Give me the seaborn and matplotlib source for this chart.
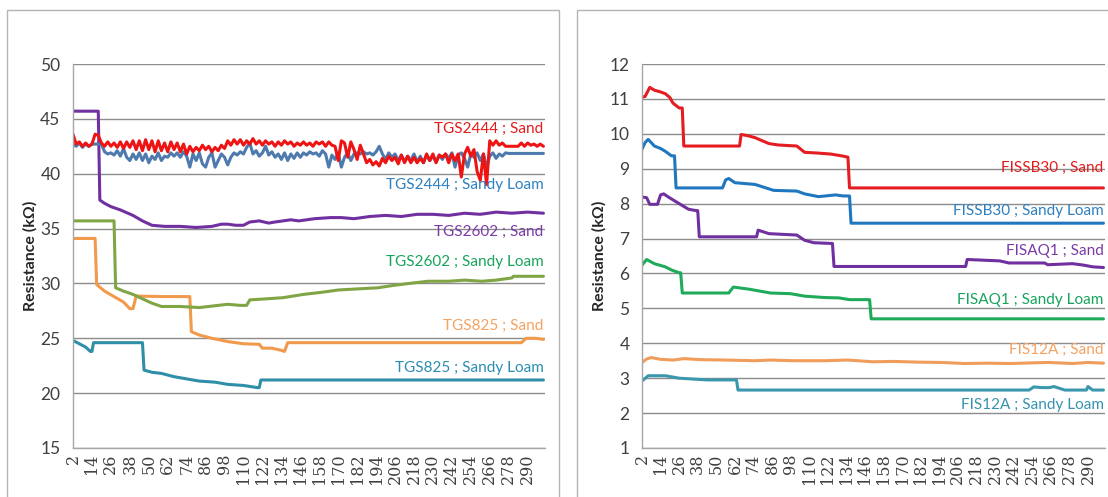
import matplotlib
matplotlib.use("Agg")
import matplotlib.pyplot as plt
import matplotlib.transforms as mtransforms
from matplotlib.patches import Rectangle
import seaborn as sns
import pandas as pd
import numpy as np

# sample numbers (category axis)
x_ticks = list(range(2, 291, 12))
x_every2 = list(range(2, 301, 2))

# ---- left chart: TGS sensors ----
tgs2444_sand = [
    43.6, 42.7, 42.9, 42.5, 42.8, 42.5, 42.7, 43.6, 43.5, 42.8,
    42.5, 42.9, 42.5, 42.8, 42.4, 42.9, 42.3, 42.9, 42.4, 43.0,
    42.2, 43.0, 42.1, 43.1, 42.2, 43.0, 42.0, 43.0, 42.1, 42.8,
    42.0, 42.9, 42.2, 42.8, 42.0, 42.7, 41.8, 42.5, 42.0, 42.4,
    42.1, 42.6, 42.2, 42.5, 42.0, 42.4, 42.1, 42.6, 42.3, 43.0,
    42.6, 43.1, 42.7, 43.1, 42.6, 43.0, 42.7, 43.2, 42.7, 43.0,
    42.6, 43.0, 42.7, 42.9, 42.5, 42.9, 42.6, 43.0, 42.7, 42.9,
    42.5, 42.8, 42.6, 42.9, 42.6, 42.8, 42.5, 42.9, 42.7, 42.9,
    42.5, 42.9, 42.6, 42.5, 41.2, 43.0, 42.8, 41.5, 42.9, 42.2,
    41.3, 42.6, 41.8, 41.0, 41.3, 40.8, 41.1, 40.7, 41.4, 41.0,
    41.6, 41.2, 41.5, 40.9, 41.7, 41.0, 41.6, 41.0, 41.5, 41.0,
    41.4, 41.0, 41.8, 41.2, 41.8, 41.0, 41.7, 41.5, 41.8, 41.0,
    41.8, 41.2, 41.8, 39.7, 41.8, 42.4, 41.6, 42.2, 40.2, 39.4,
    41.8, 39.0, 43.0, 42.6, 43.0, 42.6, 42.8, 42.5, 42.5, 42.5,
    42.5, 42.5, 42.8, 42.5, 42.8, 42.6, 42.7, 42.5, 42.7, 42.5,
]
tgs2444_loam = [
    42.7, 42.5, 42.8, 42.4, 42.7, 42.5, 42.7, 42.7, 42.7, 42.7,
    42.0, 41.8, 41.9, 41.7, 42.1, 41.6, 42.3, 41.5, 41.2, 41.8,
    41.3, 41.9, 41.2, 41.8, 41.0, 41.6, 41.3, 41.9, 41.2, 41.6,
    41.5, 41.9, 41.6, 41.9, 41.5, 42.0, 41.6, 40.6, 41.8, 41.2,
    41.9, 40.9, 40.6, 41.5, 41.9, 40.6, 41.2, 41.8, 41.5, 40.8,
    41.5, 41.9, 41.7, 42.0, 41.8, 42.4, 42.8, 41.8, 42.1, 41.6,
    41.9, 42.5, 41.7, 42.0, 41.5, 41.8, 41.3, 41.9, 41.2, 41.8,
    41.4, 41.9, 41.5, 41.9, 41.7, 42.0, 41.8, 41.9, 41.6, 42.1,
    41.8, 40.6, 41.7, 41.3, 41.9, 40.6, 41.5, 41.9, 41.2, 41.8,
    41.9, 41.8, 42.0, 41.8, 41.9, 41.7, 42.0, 42.5, 41.8, 41.3,
    41.9, 41.5, 41.8, 41.2, 41.7, 41.1, 41.6, 41.2, 41.8, 41.1,
    41.6, 41.0, 41.7, 41.2, 41.6, 41.1, 41.7, 41.3, 41.8, 41.4,
    41.9, 40.6, 41.7, 41.9, 41.4, 40.6, 41.8, 41.5, 41.9, 41.2,
    41.8, 40.6, 41.6, 41.9, 41.4, 41.8, 41.6, 41.9, 41.85, 41.85,
    41.85, 41.85, 41.85, 41.85, 41.85, 41.85, 41.85, 41.85, 41.85, 41.85,
]
tgs2602_sand_x = [2, 18, 19, 22, 26, 32, 40, 46, 52, 60, 70, 80, 90, 96, 100, 105, 110, 114, 120, 126,
                  130, 140, 145, 155, 165, 172, 180, 190, 200, 210, 220, 230, 240, 250, 260, 270, 280, 290, 300]
tgs2602_sand = [45.7, 45.7, 37.6, 37.3, 37.0, 36.7, 36.2, 35.7, 35.3, 35.2, 35.2, 35.1, 35.2, 35.4, 35.4, 35.3,
                35.3, 35.6, 35.7, 35.5, 35.6, 35.8, 35.7, 35.9, 36.0, 36.0, 35.9, 36.1, 36.2, 36.1, 36.3, 36.3,
                36.2, 36.4, 36.3, 36.5, 36.4, 36.5, 36.4]
tgs2602_loam_x = [2, 28, 29, 34, 40, 46, 52, 58, 70, 82, 88, 100, 108, 112, 114, 125, 135, 148, 160, 170,
                  182, 195, 204, 215, 227, 240, 250, 261, 270, 280, 281, 300]
tgs2602_loam = [35.7, 35.7, 29.6, 29.3, 29.0, 28.6, 28.2, 27.9, 27.9, 27.8, 27.9, 28.1, 28.0, 28.0, 28.5, 28.6,
                28.7, 29.0, 29.2, 29.4, 29.5, 29.6, 29.8, 30.0, 30.2, 30.2, 30.3, 30.2, 30.3, 30.5, 30.65, 30.65]
tgs825_sand_x = [2, 16, 17, 22, 28, 34, 38, 40, 42, 60, 76, 77, 82, 90, 100, 110, 120, 122, 128, 134,
                 136, 138, 200, 286, 289, 295, 300]
tgs825_sand = [34.1, 34.1, 29.9, 29.3, 28.8, 28.3, 27.7, 27.7, 28.85, 28.8, 28.8, 25.6, 25.3, 25.0, 24.7, 24.5,
               24.45, 24.1, 24.1, 23.9, 23.8, 24.6, 24.6, 24.6, 25.0, 25.0, 24.9]
tgs825_loam_x = [2, 6, 10, 13, 14, 15, 46, 47, 52, 58, 66, 74, 82, 92, 100, 110, 119, 120, 121, 300]
tgs825_loam = [24.8, 24.5, 24.2, 23.8, 23.8, 24.6, 24.6, 22.1, 21.9, 21.8, 21.5, 21.3, 21.1, 21.0, 20.8, 20.7,
               20.5, 20.5, 21.2, 21.2]

# ---- right chart: FIS sensors ----
fissb30_sand_x = [2, 4, 7, 10, 14, 17, 20, 22, 26, 28, 29, 65, 66, 70, 75, 84, 90, 102, 107, 115,
                  124, 132, 135, 136, 300]
fissb30_sand = [11.05, 11.07, 11.33, 11.25, 11.2, 11.15, 11.04, 10.88, 10.74, 10.74, 9.65, 9.65, 9.98, 9.95,
                9.89, 9.72, 9.68, 9.65, 9.47, 9.45, 9.42, 9.36, 9.33, 8.45, 8.45]
fissb30_loam_x = [2, 4, 6, 10, 14, 17, 21, 23, 24, 54, 56, 58, 62, 75, 87, 102, 107, 116, 127, 132,
                  136, 137, 300]
fissb30_loam = [9.56, 9.75, 9.84, 9.65, 9.58, 9.5, 9.37, 9.37, 8.45, 8.45, 8.68, 8.72, 8.6, 8.55, 8.38, 8.36,
                8.28, 8.2, 8.25, 8.22, 8.22, 7.44, 7.44]
fisaq1_sand_x = [2, 5, 7, 12, 14, 16, 19, 26, 32, 37, 38, 39, 76, 77, 84, 102, 107, 113, 124, 125,
                 126, 211, 212, 233, 239, 262, 264, 280, 287, 293, 300]
fisaq1_sand = [8.19, 8.17, 7.98, 7.98, 8.25, 8.28, 8.19, 8.0, 7.84, 7.8, 7.8, 7.05, 7.05, 7.24, 7.14, 7.1,
               6.95, 6.88, 6.86, 6.86, 6.2, 6.2, 6.4, 6.36, 6.3, 6.3, 6.25, 6.28, 6.24, 6.19, 6.17]
fisaq1_loam_x = [2, 5, 10, 17, 21, 26, 27, 28, 58, 61, 71, 85, 98, 107, 120, 129, 136, 148, 149, 150, 300]
fisaq1_loam = [6.24, 6.4, 6.28, 6.19, 6.1, 6.02, 6.02, 5.44, 5.44, 5.61, 5.55, 5.44, 5.42, 5.35, 5.31, 5.3,
               5.25, 5.25, 5.25, 4.7, 4.7]
fis12a_sand_x = [2, 5, 8, 14, 22, 29, 40, 55, 75, 85, 100, 120, 135, 151, 165, 180, 196, 210, 225, 240,
                 255, 265, 280, 290, 300]
fis12a_sand = [3.45, 3.55, 3.59, 3.54, 3.52, 3.56, 3.53, 3.52, 3.5, 3.52, 3.5, 3.5, 3.52, 3.47, 3.48, 3.46,
               3.45, 3.42, 3.43, 3.42, 3.44, 3.45, 3.42, 3.45, 3.43]
fis12a_loam_x = [2, 6, 17, 26, 44, 63, 64, 65, 252, 255, 260, 265, 268, 275, 279, 289, 290, 293, 300]
fis12a_loam = [2.92, 3.07, 3.07, 3.0, 2.95, 2.95, 2.66, 2.66, 2.66, 2.75, 2.73, 2.73, 2.76, 2.66, 2.66, 2.66,
               2.76, 2.66, 2.66]

# series name, x, y, line colour, label colour, label y
left_series = [
    ("TGS825 ; Sandy Loam", tgs825_loam_x, tgs825_loam, "#2f8ea8", "#2a8db0", 22.3),
    ("TGS825 ; Sand", tgs825_sand_x, tgs825_sand, "#f29a4c", "#f4a262", 26.1),
    ("TGS2602 ; Sandy Loam", tgs2602_loam_x, tgs2602_loam, "#7fa544", "#18a35c", 31.95),
    ("TGS2602 ; Sand", tgs2602_sand_x, tgs2602_sand, "#7030a0", "#7a3aa6", 34.7),
    ("TGS2444 ; Sandy Loam", x_every2, tgs2444_loam, "#4e7aae", "#2e80c0", 38.95),
    ("TGS2444 ; Sand", x_every2, tgs2444_sand, "#ee1414", "#e51b1b", 44.05),
]
right_series = [
    ("FIS12A ; Sandy Loam", fis12a_loam_x, fis12a_loam, "#3a97ad", "#3592ad", 2.23),
    ("FIS12A ; Sand", fis12a_sand_x, fis12a_sand, "#f09c5a", "#f4a262", 3.81),
    ("FISAQ1 ; Sandy Loam", fisaq1_loam_x, fisaq1_loam, "#1fab5a", "#18a35c", 5.24),
    ("FISAQ1 ; Sand", fisaq1_sand_x, fisaq1_sand, "#7030a0", "#7a3aa6", 6.64),
    ("FISSB30 ; Sandy Loam", fissb30_loam_x, fissb30_loam, "#1f78bf", "#2e80c0", 7.79),
    ("FISSB30 ; Sand", fissb30_sand_x, fissb30_sand, "#e51d22", "#e51b1b", 9.02),
]

sns.set_style("white")
plt.rcParams["font.family"] = ["Lato", "DejaVu Sans"]

W, H = 1108, 497
fig = plt.figure(figsize=(W / 100, H / 100), dpi=100)

# chart-area frames
for x0, x1 in ((7, 559), (577, 1140)):
    fig.patches.append(Rectangle((x0 / W, -0.2), (x1 - x0) / W, 0.2 + 1 - 10 / H,
                                 transform=fig.transFigure, fill=False,
                                 edgecolor="#b4b4b4", lw=1.0))


def draw_panel(ax, series, ylim, yticks):
    frames = []
    for name, xs, ys, _, _, _ in series:
        frames.append(pd.DataFrame({"sample": xs, "resistance": ys, "series": name}))
    df = pd.concat(frames, ignore_index=True)
    palette = {s[0]: s[3] for s in series}
    sns.lineplot(data=df, x="sample", y="resistance", hue="series",
                 hue_order=[s[0] for s in series], palette=palette,
                 estimator=None, sort=False, lw=2.2, legend=False, ax=ax)
    trans = mtransforms.blended_transform_factory(ax.transAxes, ax.transData)
    for name, _, _, _, tcol, ty in series:
        ax.text(0.997, ty, name, transform=trans, ha="right", va="center",
                color=tcol, fontsize=11)
    ax.set_xlim(2, 301)
    ax.set_ylim(*ylim)
    ax.set_yticks(yticks)
    ax.set_xticks(x_ticks)
    ax.set_xticklabels([str(t) for t in x_ticks], rotation=90,
                       fontfamily="DejaVu Serif", fontsize=11.5, color="#404040")
    ax.tick_params(axis="y", length=0, pad=9, labelsize=12.5, labelcolor="#404040")
    ax.tick_params(axis="x", length=0, pad=4)
    ax.yaxis.grid(True, color="#8c8c8c", lw=1.0)
    ax.set_axisbelow(True)
    for side in ("top", "right"):
        ax.spines[side].set_visible(False)
    for side in ("left", "bottom"):
        ax.spines[side].set_color("#a6a6a6")
        ax.spines[side].set_linewidth(1.0)
    ax.set_xlabel("")
    ax.set_ylabel("Resistance (kΩ)", fontweight="bold", fontsize=11.5,
                  labelpad=2, color="#262626")


ax1 = fig.add_axes([73 / W, 1 - 448 / H, 472 / W, 384 / H])
draw_panel(ax1, left_series, (15, 50), [15, 20, 25, 30, 35, 40, 45, 50])

ax2 = fig.add_axes([642 / W, 1 - 448 / H, 463 / W, 384 / H])
draw_panel(ax2, right_series, (1, 12), list(range(1, 13)))

fig.savefig("out.png", dpi=100)
